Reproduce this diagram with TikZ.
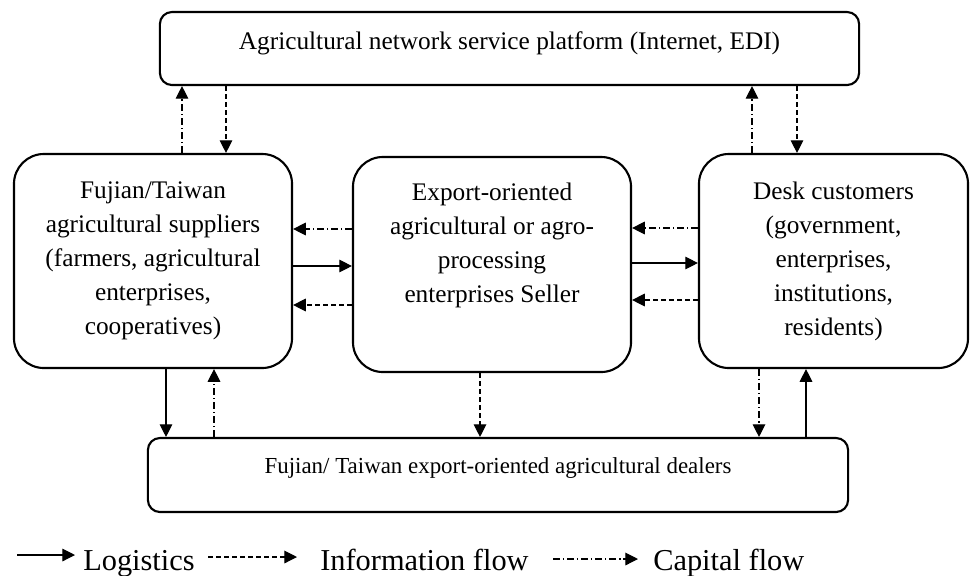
\documentclass[tikz,border=0pt]{standalone}
\usepackage{fontspec}
\setmainfont{Liberation Serif}
\usetikzlibrary{arrows.meta}
\begin{document}
\begin{tikzpicture}[x=0.025cm,y=-0.025cm]
\tikzset{boite/.style={draw, line width=1.5pt, rounded corners=0.75cm, align=center, font=\fontsize{18}{24.2}\selectfont},
bande/.style={draw, line width=1.5pt, rounded corners=0.3cm},
logi/.style={-{Triangle[length=9pt,width=9pt]}, line width=0.8pt},
info/.style={logi, dash pattern=on 3.5pt off 2.2pt},
capi/.style={logi, dash pattern=on 5pt off 2pt on 1pt off 2pt},
legende/.style={anchor=base west, inner xsep=0pt, font=\fontsize{21.6}{26}\selectfont}}
\useasboundingbox (0,0) rectangle (970,575);
\node[bande, minimum width=17.475cm, minimum height=1.825cm, text height=12.3pt, text depth=10.2pt, font=\fontsize{18}{24.2}\selectfont] (plat) at (509.5,48.5) {Agricultural network service platform (Internet, EDI)};
\node[boite, minimum width=6.95cm, minimum height=5.35cm] (sup) at (153,261) {Fujian/Taiwan\\agricultural suppliers\\(farmers, agricultural\\enterprises,\\cooperatives)};
\node[boite, minimum width=6.95cm, minimum height=5.375cm] (sel) at (492,264.5) {Export-oriented\\agricultural or agro-\\processing\\enterprises Seller\\\strut};
\node[boite, minimum width=6.725cm, minimum height=5.35cm] (cus) at (833.5,261) {Desk customers\\(government,\\enterprises,\\institutions,\\residents)};
\node[bande, minimum width=17.5cm, minimum height=1.85cm, text height=11.3pt, text depth=14.1pt, font=\fontsize{16.3}{20}\selectfont] (deal) at (498,475) {Fujian/ Taiwan export-oriented agricultural dealers};
\coordinate (xa) at (182,0);
\coordinate (xb) at (226,0);
\coordinate (xc) at (752,0);
\coordinate (xd) at (797,0);
\coordinate (xe) at (166,0);
\coordinate (xf) at (214,0);
\coordinate (xg) at (480,0);
\coordinate (xh) at (759,0);
\coordinate (xi) at (806,0);
\coordinate (ya) at (0,229);
\coordinate (yb) at (0,266);
\coordinate (yc) at (0,305);
\coordinate (yd) at (0,228);
\coordinate (ye) at (0,263);
\coordinate (yf) at (0,300);
\draw[capi] (xa |- sup.north) -- (xa |- plat.south);
\draw[info] (xb |- plat.south) -- (xb |- sup.north);
\draw[capi] (xc |- cus.north) -- (xc |- plat.south);
\draw[info] (xd |- plat.south) -- (xd |- cus.north);
\draw[capi] (sel.west |- ya) -- (sup.east |- ya);
\draw[logi] (sup.east |- yb) -- (sel.west |- yb);
\draw[info] (sel.west |- yc) -- (sup.east |- yc);
\draw[capi] (cus.west |- yd) -- (sel.east |- yd);
\draw[logi] (sel.east |- ye) -- (cus.west |- ye);
\draw[info] (cus.west |- yf) -- (sel.east |- yf);
\draw[logi] (xe |- sup.south) -- (xe |- deal.north);
\draw[capi] (xf |- deal.north) -- (xf |- sup.south);
\draw[info] (xg |- sel.south) -- (xg |- deal.north);
\draw[capi] (xh |- cus.south) -- (xh |- deal.north);
\draw[logi] (xi |- deal.north) -- (xi |- cus.south);
\node[legende] (leglog) at (83,570) {Logistics};
\node[legende] (leginf) at (320,570) {Information flow};
\node[legende] (legcap) at (653,570) {Capital flow};
\coordinate (la) at (17,555);
\coordinate (lae) at (75,555);
\coordinate (lb) at (208,557);
\coordinate (lbe) at (297,557);
\coordinate (lc) at (553,559);
\coordinate (lce) at (638,559);
\draw[logi] (la) -- (lae);
\draw[info] (lb) -- (lbe);
\draw[capi] (lc) -- (lce);
\end{tikzpicture}
\end{document}
